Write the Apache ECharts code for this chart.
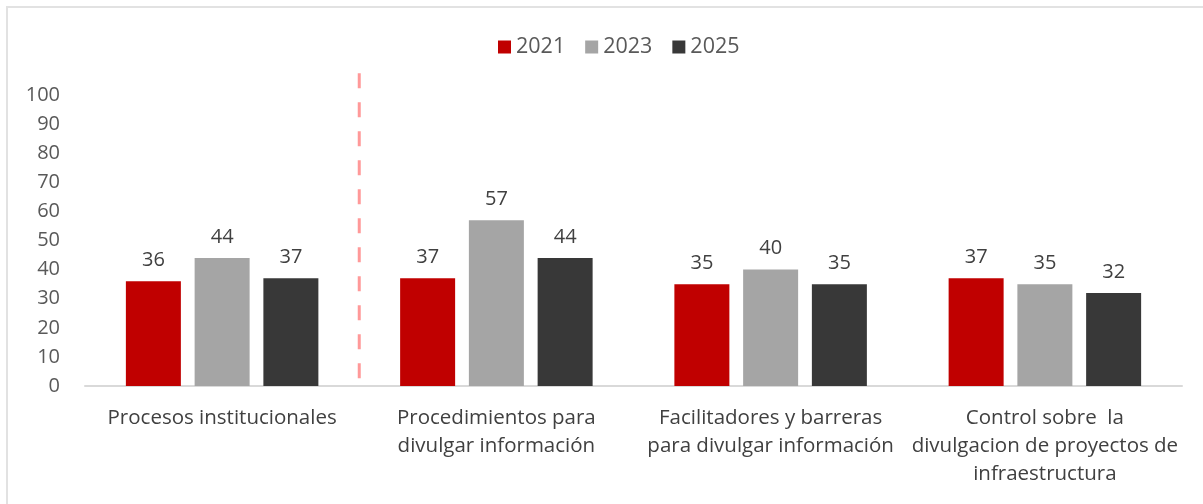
<!DOCTYPE html>
<html>
<head>
<meta charset="utf-8">
<script src="https://cdn.jsdelivr.net/npm/echarts@6/dist/echarts.min.js"></script>
<style>
  html, body { margin: 0; padding: 0; background: #fff; }
  #container { width: 1203px; height: 504px; position: relative; }
  .frame { position: absolute; left: 6px; top: 6px; right: -4px; bottom: -4px;
           border-top: 2px solid #e2e2e2; border-left: 2px solid #e2e2e2; pointer-events: none; }
</style>
</head>
<body>
<div id="container"></div>
<div class="frame"></div>
<script>
// 类目
var categories = [
    'Procesos institucionales',
    'Procedimientos para\ndivulgar información',
    'Facilitadores y barreras\npara divulgar información',
    'Control sobre  la\ndivulgacion de proyectos de\ninfraestructura'
];
var years = ['2021', '2023', '2025'];
var colors = ['#C00000', '#A5A5A5', '#383838'];

// 数据
var data2021 = [36, 37, 35, 37];
var data2023 = [44, 57, 40, 35];
var data2025 = [37, 44, 35, 32];

// 分隔虚线 (value x axis 0..4, 在第一组之后)
var sepX = 1;
var sepTop = 107.5;

var yTicks = { min: 0, max: 100, interval: 10 };

var fontFam = '"Open Sans", "Noto Sans", sans-serif';

var dom = document.getElementById('container');
var myChart = echarts.init(dom);

var seriesData = [data2021, data2023, data2025];
var series = [];
for (var i = 0; i < years.length; i++) {
    series.push({
        name: years[i],
        type: 'bar',
        data: seriesData[i],
        barWidth: 55,
        barGap: '25%',
        itemStyle: { color: colors[i] },
        label: {
            show: true,
            position: 'top',
            distance: 11,
            color: '#404040',
            fontSize: 20,
            fontFamily: fontFam
        }
    });
}
// 虚线, 从上往下画
series.push({
    name: 'sep',
    type: 'line',
    xAxisIndex: 1,
    clip: false,
    symbol: 'none',
    silent: true,
    data: [[sepX, sepTop], [sepX, 0]],
    lineStyle: { color: '#FF9999', width: 3, type: [15, 14] },
    z: 1
});

var option = {
    animation: false,
    backgroundColor: '#fff',
    legend: {
        data: years,
        top: 31,
        left: 493,
        itemWidth: 13,
        itemHeight: 13,
        itemGap: 20,
        icon: 'rect',
        textStyle: { color: '#595959', fontSize: 21.5, fontFamily: fontFam }
    },
    grid: {
        left: 85,
        right: 21,
        top: 95,
        bottom: 118
    },
    xAxis: [{
        type: 'category',
        data: categories,
        axisLine: { lineStyle: { color: '#D9D9D9', width: 2 } },
        axisTick: { show: false },
        axisLabel: {
            color: '#404040',
            fontSize: 20.5,
            lineHeight: 28,
            margin: 18,
            interval: 0,
            fontFamily: fontFam
        }
    }, {
        type: 'value',
        min: 0,
        max: 4,
        show: false
    }],
    yAxis: {
        type: 'value',
        min: yTicks.min,
        max: yTicks.max,
        interval: yTicks.interval,
        axisLine: { show: false },
        axisTick: { show: false },
        splitLine: { show: false },
        axisLabel: {
            color: '#595959',
            fontSize: 20,
            margin: 25,
            fontFamily: fontFam
        }
    },
    series: series
};

myChart.setOption(option, true);
</script>
</body>
</html>
